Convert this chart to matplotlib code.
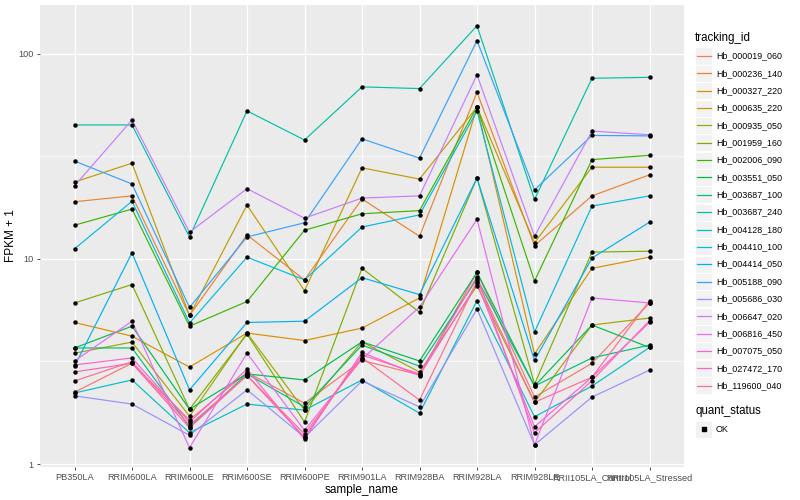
import matplotlib
matplotlib.use("Agg")
import matplotlib.pyplot as plt
from matplotlib.lines import Line2D
from matplotlib.patches import Rectangle
import numpy as np

plt.rcParams['font.family'] = ['Liberation Sans', 'DejaVu Sans']

samples = ["PB350LA", "RRIM600LA", "RRIM600LE", "RRIM600SE", "RRIM600PE", "RRIM901LA",
           "RRIM928BA", "RRIM928LA", "RRIM928LE", "RRII105LA_Control", "RRII105LA_Stressed"]

tracking_ids = ["Hb_000019_060", "Hb_000236_140", "Hb_000327_220", "Hb_000635_220", "Hb_000935_050",
                "Hb_001959_160", "Hb_002006_090", "Hb_003551_050", "Hb_003687_100", "Hb_003687_240",
                "Hb_004128_180", "Hb_004410_100", "Hb_004414_050", "Hb_005188_090", "Hb_005686_030",
                "Hb_006647_020", "Hb_006816_450", "Hb_007075_050", "Hb_027472_170", "Hb_119600_040"]

colors = ["#F8766D", "#EA8331", "#D89000", "#C09B00", "#A3A500", "#7CAE00", "#39B600", "#00BB4E",
          "#00BF7D", "#00C1A3", "#00BFC4", "#00BAE0", "#00B0F6", "#35A2FF", "#9590FF", "#C77CFF",
          "#E76BF3", "#FA62DB", "#FF62BC", "#FF6C91"]

Hb_000019_060 = [2.24, 3.10, 1.64, 2.80, 1.98, 3.20, 2.72, 8.60, 2.12, 3.10, 6.10]
Hb_000236_140 = [19.0, 20.3, 5.30, 13.1, 7.90, 19.6, 12.9, 65.0, 11.6, 20.3, 25.7]
Hb_000327_220 = [4.90, 4.20, 2.97, 4.35, 4.00, 4.60, 6.45, 55.0, 3.44, 9.00, 10.2]
Hb_000635_220 = [23.7, 29.3, 5.30, 18.3, 7.00, 27.8, 24.5, 55.0, 12.0, 28.0, 28.0]
Hb_000935_050 = [3.47, 3.93, 1.71, 4.35, 1.83, 3.94, 2.81, 7.40, 2.00, 4.76, 5.15]
Hb_001959_160 = [6.10, 7.50, 1.85, 4.30, 1.60, 9.00, 5.50, 24.8, 2.45, 10.8, 10.9]
Hb_002006_090 = [14.6, 17.5, 4.70, 6.20, 13.8, 16.6, 17.2, 55.0, 7.80, 30.5, 32.0]
Hb_003551_050 = [3.68, 4.70, 1.85, 2.75, 2.57, 3.94, 3.18, 8.60, 2.40, 4.76, 3.70]
Hb_003687_100 = [3.68, 3.68, 1.52, 2.75, 1.90, 3.80, 3.00, 8.00, 2.40, 3.29, 3.80]
Hb_003687_240 = [45.0, 45.0, 12.8, 52.7, 38.0, 69.0, 67.7, 137.0, 19.5, 76.0, 76.8]
Hb_004128_180 = [2.22, 2.57, 1.42, 1.96, 1.83, 2.57, 1.77, 6.25, 1.70, 2.40, 3.70]
Hb_004410_100 = [11.2, 19.1, 4.87, 10.2, 7.90, 14.3, 16.4, 52.7, 4.40, 18.1, 20.3]
Hb_004414_050 = [3.00, 10.7, 2.30, 4.90, 4.97, 8.10, 6.70, 24.8, 3.20, 10.1, 15.1]
Hb_005188_090 = [30.0, 23.2, 5.80, 12.8, 15.0, 38.5, 31.0, 116.0, 21.7, 40.0, 39.8]
Hb_005686_030 = [2.15, 1.96, 1.38, 2.30, 1.35, 2.54, 1.90, 5.70, 1.24, 2.12, 2.87]
Hb_006647_020 = [22.7, 47.6, 13.5, 22.0, 15.8, 19.8, 20.3, 79.0, 12.9, 42.0, 40.3]
Hb_006816_450 = [3.18, 4.97, 1.20, 3.47, 1.46, 3.25, 5.83, 15.6, 1.24, 6.45, 6.10]
Hb_007075_050 = [3.04, 3.29, 1.60, 2.90, 1.32, 3.50, 2.70, 7.60, 1.52, 2.65, 4.90]
Hb_027472_170 = [2.81, 3.10, 1.50, 2.70, 1.35, 3.40, 2.75, 8.20, 1.42, 2.55, 5.00]
Hb_119600_040 = [2.54, 3.15, 1.55, 2.70, 1.40, 3.30, 2.05, 7.80, 2.00, 2.65, 6.25]

series = [Hb_000019_060, Hb_000236_140, Hb_000327_220, Hb_000635_220, Hb_000935_050,
          Hb_001959_160, Hb_002006_090, Hb_003551_050, Hb_003687_100, Hb_003687_240,
          Hb_004128_180, Hb_004410_100, Hb_004414_050, Hb_005188_090, Hb_005686_030,
          Hb_006647_020, Hb_006816_450, Hb_007075_050, Hb_027472_170, Hb_119600_040]

y_ticks = [1, 10, 100]
y_tick_labels = ["1", "10", "100"]

fig = plt.figure(figsize=(8, 5), dpi=100)
ax = fig.add_axes([40/800, 1-467/500, (684-40)/800, (467-5)/500])
ax.set_facecolor("#EBEBEB")
for s in ax.spines.values():
    s.set_visible(False)

ax.set_yscale("log")
ax.set_ylim(0.967, 173)
x = np.arange(len(samples))
ax.set_xlim(-0.6, len(samples) - 1 + 0.6)

# grid
for v in [10**-0.5, 10**0.5, 10**1.5]:
    ax.axhline(v, color="white", lw=0.5, zorder=0)
for v in y_ticks:
    ax.axhline(v, color="white", lw=1.0, zorder=0)
for xi in x:
    ax.axvline(xi, color="white", lw=1.0, zorder=0)

for vals, col in zip(series, colors):
    ax.plot(x, vals, color=col, lw=0.85, zorder=2)
for vals in series:
    ax.plot(x, vals, linestyle="none", marker="o", ms=2.2, color="black", zorder=3)

ax.set_yticks(y_ticks)
ax.set_yticklabels(y_tick_labels)
ax.yaxis.set_minor_locator(matplotlib.ticker.NullLocator())
ax.set_xticks(x)
ax.set_xticklabels(samples)
ax.tick_params(axis="both", colors="#333333", labelcolor="#4D4D4D", labelsize=6.6,
               length=2.5, width=0.6, pad=2)
ax.set_xlabel("sample_name", fontsize=8.5, labelpad=1)
ax.set_ylabel("FPKM + 1", fontsize=8.5, labelpad=1)

# legend (manual, ggplot style)
fig.text(695/800, 1-38/500, "tracking_id", fontsize=8.3, va="center", ha="left")
for i, (name, col) in enumerate(zip(tracking_ids, colors)):
    yc = 56 + 17.35 * i
    fig.patches.append(Rectangle((695/800, 1-(yc+8.5)/500), 17/800, 17/500,
                                 transform=fig.transFigure, facecolor="#F2F2F2",
                                 edgecolor="white", lw=0.6))
    fig.lines.append(Line2D([697/800, 711/800], [1-yc/500, 1-yc/500], transform=fig.transFigure,
                            color=col, lw=0.9))
    fig.text(716/800, 1-yc/500, name, fontsize=6.4, va="center", ha="left")

fig.text(695/800, 1-411/500, "quant_status", fontsize=8.3, va="center", ha="left")
fig.patches.append(Rectangle((695/800, 1-(429+8.5)/500), 17/800, 17/500,
                             transform=fig.transFigure, facecolor="#F2F2F2",
                             edgecolor="white", lw=0.6))
fig.lines.append(Line2D([703.5/800], [1-429/500], transform=fig.transFigure,
                        color="black", marker="s", ms=2.3, linestyle="none"))
fig.text(716/800, 1-429/500, "OK", fontsize=6.4, va="center", ha="left")

fig.savefig("out.png", dpi=100)
